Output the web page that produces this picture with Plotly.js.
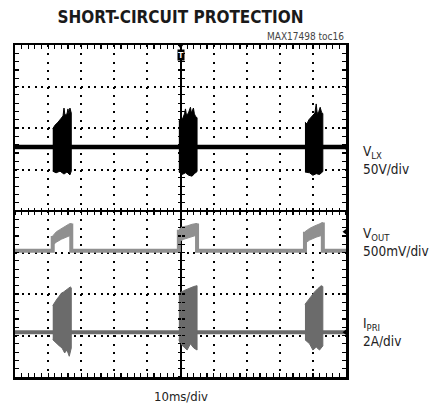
<!DOCTYPE html>
<html><head><meta charset="utf-8">
<script src="https://cdn.plot.ly/plotly-3.0.1.min.js"></script>
<style>html,body{margin:0;padding:0;background:#fff}#chart{width:439px;height:411px}</style>
</head><body><div id="chart"></div>
<script>
// time in ms relative to trigger (10 ms/div), level in divisions
const burstStart = [-38.6, -0.5, 37.6];
const burstEnd = [-33.0, 5.0, 43.0];
const vlxBase = 1.54, voutBase = -0.96, ipriBase = -2.92;
const voutMark = -0.5;

// VLX bursts (black)
const vlx1TopT = [-38.6,-37.9,-37.0,-36.1,-35.5,-35.2,-34.9,-34.3,-34.0,-33.7,-33.4,-33.1,-33.0];
const vlx1TopD = [1.98,2.07,2.14,2.22,2.29,2.48,2.31,2.34,2.46,2.34,2.48,2.39,2.36];
const vlx1BotT = [-33.0,-33.4,-34.3,-35.2,-36.4,-37.6,-38.6];
const vlx1BotD = [0.96,0.87,0.94,0.89,0.96,0.92,0.96];
const vlx2TopT = [-0.5,-0.1,0.0,0.6,1.2,1.5,1.8,2.4,3.0,3.3,3.9,4.2,4.6,5.0];
const vlx2TopD = [2.17,2.2,2.1,2.22,2.34,2.46,2.31,2.36,2.5,2.36,2.48,2.34,2.27,2.25];
const vlx2BotT = [5.0,4.2,3.5,2.5,1.5,0.5,-0.5];
const vlx2BotD = [0.95,0.9,0.84,0.86,0.92,0.88,0.94];
const vlx3TopT = [37.6,38.2,38.8,39.4,40.0,40.6,41.0,41.3,41.8,42.2,42.6,43.0];
const vlx3TopD = [2.14,2.1,2.2,2.25,2.3,2.36,2.58,2.35,2.4,2.5,2.38,2.35];
const vlx3BotT = [43.0,42.0,41.0,40.0,39.0,37.6];
const vlx3BotD = [0.95,0.88,0.9,0.86,0.92,0.94];

// VOUT pulses (light grey band)
const vout1TopT = [-38.6,-37.5,-36.5,-35.5,-34.5,-33.8,-33.0];
const vout1TopD = [-0.6,-0.5,-0.45,-0.4,-0.36,-0.32,-0.3];
const vout1BotT = [-33.0,-34.5,-36.0,-37.5,-38.6];
const vout1BotD = [-0.58,-0.63,-0.68,-0.75,-0.82];
const vout2TopT = [-0.5,0.5,2.0,3.5,5.0];
const vout2TopD = [-0.45,-0.38,-0.36,-0.32,-0.3];
const vout2BotT = [5.0,3.0,1.0,-0.5];
const vout2BotD = [-0.58,-0.63,-0.68,-0.74];
const vout3TopT = [37.6,39.0,40.5,42.0,43.0];
const vout3TopD = [-0.5,-0.42,-0.36,-0.3,-0.28];
const vout3BotT = [43.0,41.0,39.0,37.6];
const vout3BotD = [-0.58,-0.63,-0.7,-0.78];

// IPRI bursts (dark grey)
const ipri1TopT = [-38.6,-38.0,-37.3,-36.6,-36.0,-35.3,-34.6,-33.9,-33.3,-33.0];
const ipri1TopD = [-2.28,-2.2,-2.12,-2.05,-1.98,-1.95,-1.9,-1.85,-1.83,-1.85];
const ipri1BotT = [-33.0,-33.6,-34.3,-35.0,-35.8,-36.6,-37.5,-38.6];
const ipri1BotD = [-3.3,-3.5,-3.35,-3.42,-3.3,-3.25,-3.18,-3.1];
const ipri2TopT = [-0.5,0.2,1.0,2.0,3.0,4.0,5.0];
const ipri2TopD = [-2.0,-1.95,-1.92,-1.88,-1.85,-1.82,-1.8];
const ipri2BotT = [5.0,4.0,3.0,2.0,1.0,0.0,-0.5];
const ipri2BotD = [-3.35,-3.3,-3.2,-3.35,-3.28,-3.2,-3.1];
const ipri3TopT = [37.6,38.5,39.5,40.5,41.5,42.5,43.0];
const ipri3TopD = [-2.25,-2.15,-2.05,-1.95,-1.87,-1.8,-1.82];
const ipri3BotT = [43.0,42.0,41.0,40.0,39.0,37.6];
const ipri3BotD = [-3.25,-3.35,-3.28,-3.35,-3.2,-3.1];

const xRange = [-50, 50], yRange = [-4, 4];

function poly(tt, td, bt, bd, color) {
  return {x: tt.concat(bt), y: td.concat(bd), mode: 'lines', fill: 'toself',
    fillcolor: color, line: {color: color, width: 1}, hoverinfo: 'skip', showlegend: false};
}
function base(level, color, width) {
  return {x: xRange, y: [level, level], mode: 'lines', line: {color: color, width: width},
    hoverinfo: 'skip', showlegend: false};
}
const voutTops = [vout1TopD, vout2TopD, vout3TopD];
const voutX = [xRange[0]], voutY = [voutBase];
for (let i = 0; i < burstStart.length; i++) {
  const top = voutTops[i];
  voutX.push(burstStart[i], burstStart[i], null, burstEnd[i], burstEnd[i]);
  voutY.push(voutBase, top[0], null, top[top.length - 1], voutBase);
}
voutX.push(xRange[1]); voutY.push(voutBase);

const VLXC = '#000000', VOUTC = '#909090', IPRIC = '#6b6b6b';
const traces = [
  base(vlxBase, VLXC, 4.5),
  base(ipriBase, IPRIC, 4),
  {x: voutX, y: voutY, mode: 'lines', line: {color: VOUTC, width: 4}, hoverinfo: 'skip', showlegend: false},
  poly(vlx1TopT, vlx1TopD, vlx1BotT, vlx1BotD, VLXC),
  poly(vlx2TopT, vlx2TopD, vlx2BotT, vlx2BotD, VLXC),
  poly(vlx3TopT, vlx3TopD, vlx3BotT, vlx3BotD, VLXC),
  poly(vout1TopT, vout1TopD, vout1BotT, vout1BotD, VOUTC),
  poly(vout2TopT, vout2TopD, vout2BotT, vout2BotD, VOUTC),
  poly(vout3TopT, vout3TopD, vout3BotT, vout3BotD, VOUTC),
  poly(ipri1TopT, ipri1TopD, ipri1BotT, ipri1BotD, IPRIC),
  poly(ipri2TopT, ipri2TopD, ipri2BotT, ipri2BotD, IPRIC),
  poly(ipri3TopT, ipri3TopD, ipri3BotT, ipri3BotD, IPRIC),
  {x: [xRange[1], xRange[1], xRange[1]], y: [vlxBase, voutMark, ipriBase], mode: 'markers',
   marker: {symbol: 'triangle-left', size: 7, color: '#000'}, cliponaxis: false, hoverinfo: 'skip', showlegend: false},
  {x: [0], y: [yRange[1]], mode: 'markers', marker: {symbol: 'triangle-down', size: 7, color: '#000'},
   cliponaxis: false, hoverinfo: 'skip', showlegend: false},
  {x: [null], y: [null], xaxis: 'x2', yaxis: 'y', showlegend: false, hoverinfo: 'skip'},
  {x: [null], y: [null], xaxis: 'x3', yaxis: 'y', showlegend: false, hoverinfo: 'skip'},
  {x: [null], y: [null], xaxis: 'x', yaxis: 'y2', showlegend: false, hoverinfo: 'skip'},
  {x: [null], y: [null], xaxis: 'x', yaxis: 'y3', showlegend: false, hoverinfo: 'skip'}
];

const NARROW = '"DejaVu Sans Condensed", "Liberation Sans Narrow", "Arial Narrow", sans-serif';
const centerTick = (extra) => Object.assign({range: xRange, showgrid: false, zeroline: false, showline: false,
  showticklabels: false, ticklen: 3, tickcolor: '#000', tickwidth: 1.2, fixedrange: true, anchor: 'free', position: 0.5}, extra);

const layout = {
  width: 439, height: 411,
  margin: {l: 15, r: 93, t: 45, b: 34},
  paper_bgcolor: '#fff', plot_bgcolor: '#fff',
  showlegend: false,
  font: {family: NARROW},
  title: {text: '<b>SHORT-CIRCUIT PROTECTION</b>', font: {family: NARROW, size: 17, color: '#1a1a1a'},
          xref: 'paper', x: 0.5, xanchor: 'center', yref: 'container', y: 0.958, yanchor: 'middle'},
  xaxis: {range: xRange, dtick: 10, tick0: 0, showgrid: true, gridcolor: '#000', gridwidth: 2,
    griddash: '2px,6.3px', zeroline: true, zerolinecolor: '#000', zerolinewidth: 2,
    showline: true, linecolor: '#000', linewidth: 2.5, mirror: 'allticks', ticks: 'inside', ticklen: 4,
    tickcolor: '#000', tickwidth: 1.2, showticklabels: false, fixedrange: true,
    minor: {dtick: 2, ticks: 'inside', ticklen: 3, tickcolor: '#000', tickwidth: 1.2, showgrid: false}},
  yaxis: {range: yRange, dtick: 1, tick0: 0, showgrid: true, gridcolor: '#000', gridwidth: 2,
    griddash: '2px,4.6px', zeroline: true, zerolinecolor: '#000', zerolinewidth: 2,
    showline: true, linecolor: '#000', linewidth: 2.5, mirror: 'allticks', ticks: 'inside', ticklen: 4,
    tickcolor: '#000', tickwidth: 1.2, showticklabels: false, fixedrange: true,
    minor: {dtick: 0.2, ticks: 'inside', ticklen: 3, tickcolor: '#000', tickwidth: 1.2, showgrid: false}},
  xaxis2: centerTick({overlaying: 'x', ticks: 'inside', dtick: 2, tick0: 0}),
  xaxis3: centerTick({overlaying: 'x', ticks: 'outside', dtick: 2, tick0: 0}),
  yaxis2: Object.assign(centerTick({overlaying: 'y', ticks: 'inside', dtick: 0.2, tick0: 0}), {range: yRange}),
  yaxis3: Object.assign(centerTick({overlaying: 'y', ticks: 'outside', dtick: 0.2, tick0: 0}), {range: yRange}),
  annotations: [
    {text: 'MAX17498 toc16', xref: 'paper', yref: 'paper', x: 1, y: 1, xanchor: 'right', yanchor: 'bottom',
     yshift: 1, showarrow: false, font: {family: NARROW, size: 10, color: '#444'}},
    {text: '10ms/div', xref: 'paper', yref: 'paper', x: 0.5, y: 0, xanchor: 'center', yanchor: 'top',
     yshift: -10, showarrow: false, font: {family: NARROW, size: 13, color: '#222'}},
    {text: 'V<sub>LX</sub><br>50V/div', xref: 'paper', yref: 'y', x: 1.046, y: vlxBase - 0.3, xanchor: 'left',
     yanchor: 'middle', align: 'left', showarrow: false, font: {family: NARROW, size: 13.5, color: '#222'}},
    {text: 'V<sub>OUT</sub><br>500mV/div', xref: 'paper', yref: 'y', x: 1.046, y: voutMark - 0.25, xanchor: 'left',
     yanchor: 'middle', align: 'left', showarrow: false, font: {family: NARROW, size: 13.5, color: '#222'}},
    {text: 'I<sub>PRI</sub><br>2A/div', xref: 'paper', yref: 'y', x: 1.046, y: ipriBase + 0.0, xanchor: 'left',
     yanchor: 'middle', align: 'left', showarrow: false, font: {family: NARROW, size: 13.5, color: '#222'}},
    {text: '<b>T</b>', xref: 'x', yref: 'paper', x: 0, y: 1, xanchor: 'center', yanchor: 'top', yshift: -4,
     showarrow: false, bgcolor: '#000', borderpad: 0, font: {family: 'Liberation Sans, Arial', size: 9, color: '#fff'}}
  ]
};
Plotly.newPlot('chart', traces, layout, {staticPlot: true, displayModeBar: false});
</script></body></html>
